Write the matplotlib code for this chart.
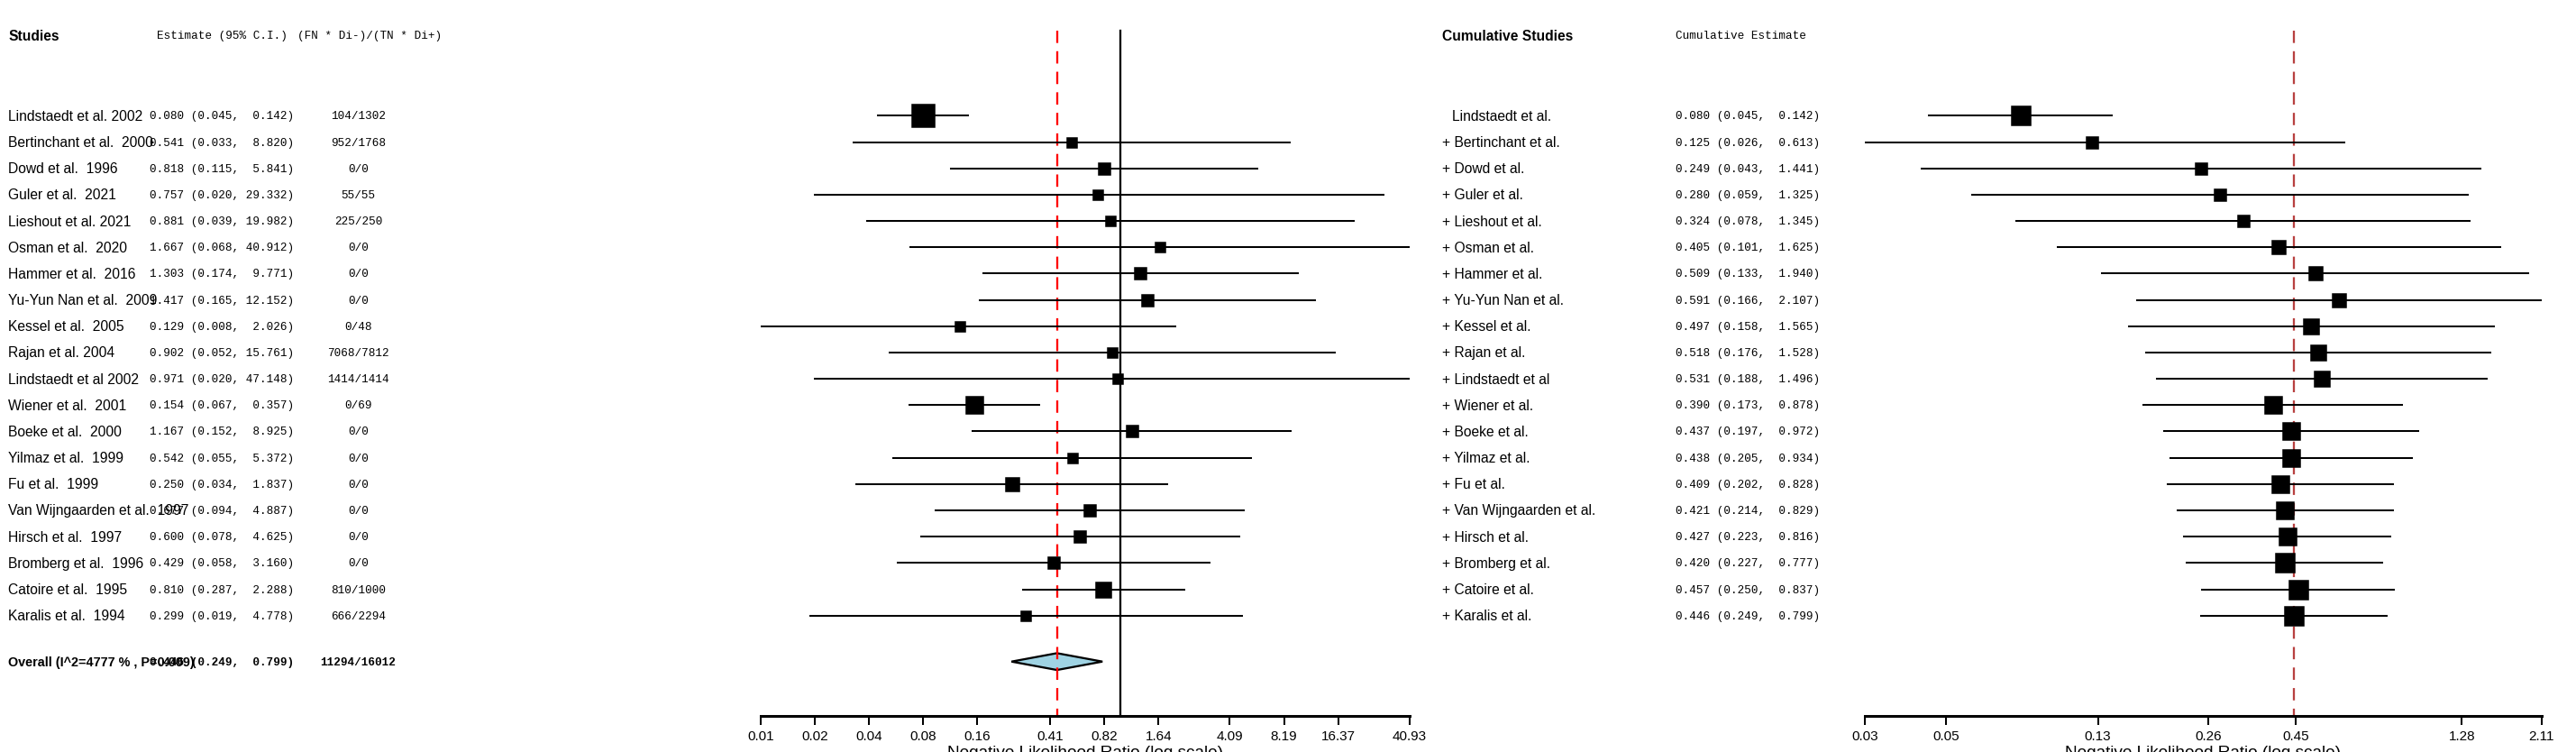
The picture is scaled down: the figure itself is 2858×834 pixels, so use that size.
import matplotlib
matplotlib.use("Agg")
import matplotlib.pyplot as plt
from matplotlib.patches import Polygon

studies = ["Lindstaedt et al. 2002","Bertinchant et al.  2000","Dowd et al.  1996","Guler et al.  2021",
           "Lieshout et al. 2021","Osman et al.  2020","Hammer et al.  2016","Yu-Yun Nan et al.  2009",
           "Kessel et al.  2005","Rajan et al. 2004","Lindstaedt et al 2002","Wiener et al.  2001",
           "Boeke et al.  2000","Yilmaz et al.  1999","Fu et al.  1999","Van Wijngaarden et al.  1997",
           "Hirsch et al.  1997","Bromberg et al.  1996","Catoire et al.  1995","Karalis et al.  1994"]
est = [0.080,0.541,0.818,0.757,0.881,1.667,1.303,1.417,0.129,0.902,0.971,0.154,1.167,0.542,0.250,0.677,0.600,0.429,0.810,0.299]
lo  = [0.045,0.033,0.115,0.020,0.039,0.068,0.174,0.165,0.008,0.052,0.020,0.067,0.152,0.055,0.034,0.094,0.078,0.058,0.287,0.019]
hi  = [0.142,8.820,5.841,29.332,19.982,40.912,9.771,12.152,2.026,15.761,47.148,0.357,8.925,5.372,1.837,4.887,4.625,3.160,2.288,4.778]
counts = ["104/1302","952/1768","0/0","55/55","225/250","0/0","0/0","0/0","0/48","7068/7812","1414/1414",
          "0/69","0/0","0/0","0/0","0/0","0/0","0/0","810/1000","666/2294"]
sq_left = [24,9,12,9,10,9,11,11,10,10,9,18,12,10,13,12,12,12,16,10]
overall = (0.446, 0.249, 0.799)
overall_label = "Overall (I^2=4777 % , P=0.009)"
overall_counts = "11294/16012"

cum_names = ["Lindstaedt et al.","+ Bertinchant et al.","+ Dowd et al.","+ Guler et al.","+ Lieshout et al.",
             "+ Osman et al.","+ Hammer et al.","+ Yu-Yun Nan et al.","+ Kessel et al.","+ Rajan et al.",
             "+ Lindstaedt et al","+ Wiener et al.","+ Boeke et al.","+ Yilmaz et al.","+ Fu et al.",
             "+ Van Wijngaarden et al.","+ Hirsch et al.","+ Bromberg et al.","+ Catoire et al.","+ Karalis et al."]
cum_est = [0.080,0.125,0.249,0.280,0.324,0.405,0.509,0.591,0.497,0.518,0.531,0.390,0.437,0.438,0.409,0.421,0.427,0.420,0.457,0.446]
cum_lo  = [0.045,0.026,0.043,0.059,0.078,0.101,0.133,0.166,0.158,0.176,0.188,0.173,0.197,0.205,0.202,0.214,0.223,0.227,0.250,0.249]
cum_hi  = [0.142,0.613,1.441,1.325,1.345,1.625,1.940,2.107,1.565,1.528,1.496,0.878,0.972,0.934,0.828,0.829,0.816,0.777,0.837,0.799]
sq_right = [20,12,11,12,12,13,13,14,15,15,15,17,17,17,18,18,18,19,19,19]

left_ticks = [0.01,0.02,0.04,0.08,0.16,0.41,0.82,1.64,4.09,8.19,16.37,40.93]
right_ticks = [0.03,0.05,0.13,0.26,0.45,1.28,2.11]

W, H = 1568, 458          # layout coordinate space
DPI = 2858 / W * 100
fig = plt.figure(figsize=(2858/DPI, 835/DPI), dpi=DPI)
SANS = "Liberation Sans"; MONO = "Liberation Mono"

def yrow(px):
    return 1 + (px - 71) / 16.0

def make_ax(x0, x1, xlim, ticks):
    ax = fig.add_axes([x0/W, 1-436/H, (x1-x0)/W, 436/H])
    ax.set_xscale("log")
    ax.set_xlim(*xlim)
    ax.set_ylim(yrow(436), yrow(0))
    for s in ["top","right","left"]:
        ax.spines[s].set_visible(False)
    ax.spines["bottom"].set_linewidth(1.2)
    ax.set_yticks([])
    ax.set_xticks(ticks)
    ax.set_xticklabels([f"{t:g}" for t in ticks], fontsize=6, family=SANS)
    ax.xaxis.set_minor_locator(matplotlib.ticker.NullLocator())
    ax.tick_params(axis="x", length=4, width=0.8, pad=2)
    ax.set_xlabel("Negative Likelihood Ratio (log scale)", fontsize=7.5, family=SANS, labelpad=1)
    return ax

axL = make_ax(463, 858, (0.01, 40.93), left_ticks)
axR = make_ax(1135, 1547, (0.03, 2.11), right_ticks)

top = yrow(19)
axL.plot([1, 1], [top, yrow(436)], color="black", lw=0.9)
axL.plot([overall[0]]*2, [top, yrow(436)], color="red", lw=0.9, ls=(0, (6, 4)))
axR.plot([overall[0]]*2, [top, yrow(436)], color="#b84040", lw=0.9, ls=(0, (6, 4)))

for i in range(20):
    r = i + 1
    axL.plot([lo[i], hi[i]], [r, r], color="black", lw=0.8)
    axL.plot(est[i], r, marker="s", color="black", ms=sq_left[i]*0.4, mec="black")
    axR.plot([cum_lo[i], cum_hi[i]], [r, r], color="black", lw=0.8)
    axR.plot(cum_est[i], r, marker="s", color="black", ms=sq_right[i]*0.4, mec="black")

yo = yrow(403)
e, l, h = overall
axL.add_patch(Polygon([[l, yo], [e, yo-0.32], [h, yo], [e, yo+0.32]], closed=True,
                      facecolor="#9fd3e3", edgecolor="black", lw=0.9))

def ftext(x, yp, s, **kw):
    fig.text(x/W, 1-yp/H, s, va="center", **kw)

NS, MS = 6.2, 5.0
ftext(5, 22, "Studies", fontsize=NS, family=SANS, weight="bold")
ftext(175, 22, "Estimate (95% C.I.)", fontsize=MS, family=MONO, ha="right")
ftext(181, 22, "(FN * Di-)/(TN * Di+)", fontsize=MS, family=MONO)
ftext(878, 22, "Cumulative Studies", fontsize=NS, family=SANS, weight="bold")
ftext(1020, 22, "Cumulative Estimate", fontsize=MS, family=MONO)

def fmt(e, l, h):
    return f"{e:.3f} ({l:.3f}, {h:6.3f})"

for i in range(20):
    yp = 71 + i*16
    ftext(5, yp, studies[i], fontsize=NS, family=SANS)
    ftext(91, yp, fmt(est[i], lo[i], hi[i]), fontsize=MS, family=MONO)
    ftext(218, yp, counts[i], fontsize=MS, family=MONO, ha="center")
    xn = 884 if i == 0 else 878
    ftext(xn, yp, cum_names[i], fontsize=NS, family=SANS)
    ftext(1020, yp, fmt(cum_est[i], cum_lo[i], cum_hi[i]), fontsize=MS, family=MONO)

ftext(5, 403, overall_label, fontsize=5.7, family=SANS, weight="bold")
ftext(91, 403, fmt(*overall), fontsize=MS, family=MONO, weight="bold")
ftext(218, 403, overall_counts, fontsize=MS, family=MONO, ha="center", weight="bold")

fig.savefig("out.png", dpi=DPI)
